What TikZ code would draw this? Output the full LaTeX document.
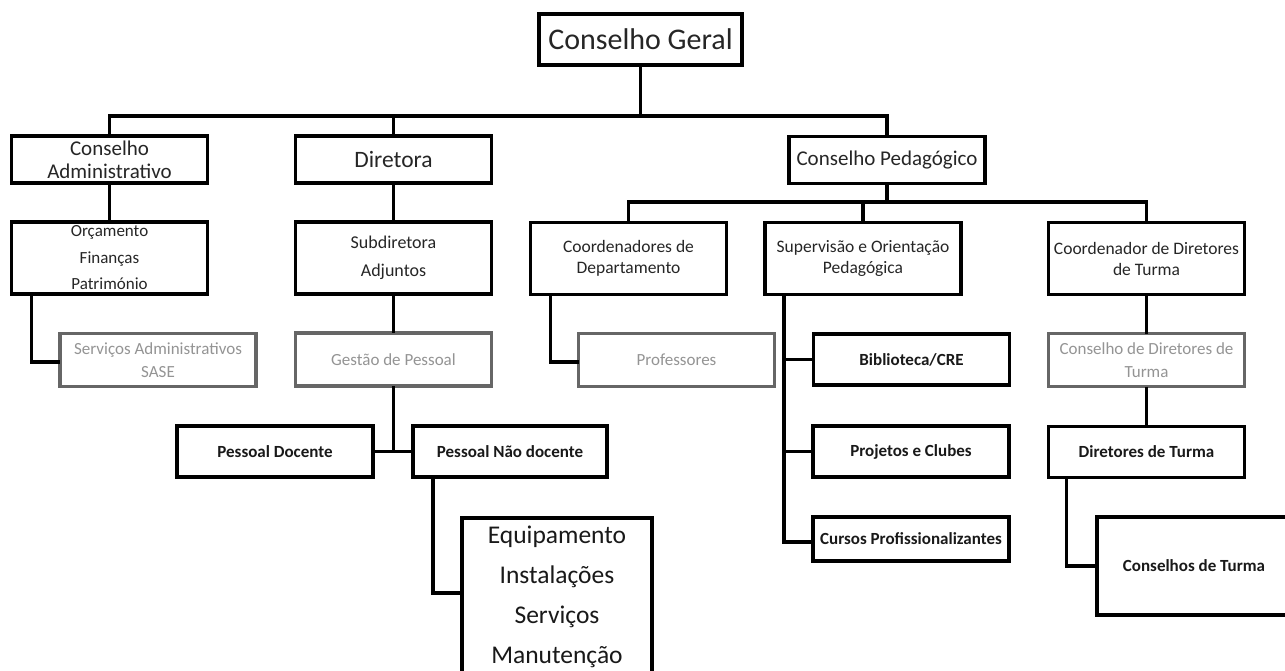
\documentclass[tikz,border=0pt]{standalone}
\usepackage{fontspec}
\setmainfont{Carlito}
\usetikzlibrary{positioning}

\begin{document}
\begin{tikzpicture}[x=1pt, y=-1pt,
    box/.style={draw=black, line width=3.2pt, fill=white, align=center, inner sep=0pt, outer sep=0pt, text=black!85, minimum width=196pt},
    top/.style={box, minimum width=203pt, minimum height=51pt, font=\fontsize{30}{34}\selectfont},
    mid/.style={box, minimum height=47pt, font=\fontsize{21}{23}\selectfont},
    sub/.style={box, minimum height=72pt, font=\fontsize{17.5}{21}\selectfont},
    grey/.style={box, draw=black!60, text=black!42, minimum height=53pt, font=\fontsize{17}{23}\selectfont},
    strong/.style={box, text=black!90, minimum height=51pt, font=\bfseries\fontsize{17}{20}\selectfont},
    link/.style={draw, line width=3.6pt}]
    \clip (0,0) rectangle (1285,670);
    \fill[white] (0,0) rectangle (1285,670);

    \node[top] (CG) at (640.5,39.5) {Conselho Geral};
    \node[mid] (CA) at (109.5,159.5) {Conselho\\Administrativo};
    \node[mid, font=\fontsize{23.5}{25}\selectfont] (Dir) at (393.5,159.5) {Diretora};
    \node[mid] (CP) at (887,160) {Conselho Pedagógico};

    \node[sub, below=39pt of CA, font=\fontsize{17}{26.5}\selectfont] (OFP) {Orçamento\\Finanças\\Património};
    \node[sub, below=39pt of Dir, font=\fontsize{18}{28}\selectfont] (SA) {Subdiretora\\Adjuntos};
    \node[sub] (Coord) at (628.5,258.5) {Coordenadores de\\Departamento};
    \node[sub] (Sup) at (863,258.5) {Supervisão e Orientação\\Pedagógica};
    \node[sub] (CDT) at (1146.5,258.5) {Coordenador de Diretores\\de Turma};

    \node[grey] (SAS) at (158,360) {Serviços Administrativos\\SASE};
    \node[grey, below=39pt of SA] (Ges) {Gestão de Pessoal};
    \node[grey] (Prof) at (676.5,360) {Professores};
    \node[strong] (Bib) at (911.5,359.5) {Biblioteca/CRE};
    \node[grey, below=39pt of CDT] (CDiT) {Conselho de Diretores de\\Turma};

    \node[strong] (PD) at (275,451.5) {Pessoal Docente};
    \node[strong, minimum width=194pt] (PND) at (510,451.5) {Pessoal Não docente};
    \node[strong] (Proj) at (911,451.5) {Projetos e Clubes};
    \node[strong, below=40pt of CDiT] (DT) {Diretores de Turma};
    \node[strong, minimum height=44pt] (Cur) at (911,539) {Cursos Profissionalizantes};
    \node[box, text=black!90, minimum width=190pt, minimum height=158pt, font=\fontsize{25.5}{40}\selectfont] (Equip) at (557,597) {Equipamento\\Instalações\\Serviços\\Manutenção};
    \node[strong, minimum width=194pt, minimum height=98pt] (CT) at (1194,566) {Conselhos de Turma};

    \coordinate (bus1) at (0,116);
    \coordinate (bus2) at (0,202);
    \coordinate (supT) at ([xshift=19pt]Sup.south west);

    \path[link]
        (CG.south) -- (CG.south |- bus1)
        (CA.north) -- (CA.north |- bus1) -| (CP.north)
        (Dir.north) -- (Dir.north |- bus1)
        (CP.south) -- (CP.south |- bus2)
        (Coord.north) -- (Coord.north |- bus2) -| (CDT.north)
        (Sup.north) -- (Sup.north |- bus2)
        (CA.south) -- (CA.south |- OFP.north)
        (Dir.south) -- (SA.north)
        (SA.south) -- (Ges.north)
        (CDT.south) -- (CDiT.north)
        (CDiT.south) -- (DT.north)
        ([xshift=20pt]OFP.south west) |- ([yshift=-2pt]SAS.west)
        ([xshift=20pt]Coord.south west) |- ([yshift=-2pt]Prof.west)
        (supT) |- ([yshift=-3pt]Cur.west)
        (supT |- Bib.west) -- (Bib.west)
        (supT |- Proj.west) -- (Proj.west)
        (Ges.south) -- (Ges.south |- PD.east)
        (PD.east) -- (PND.west)
        ([xshift=20pt]PND.south west) |- ([yshift=4pt]Equip.west)
        ([xshift=18pt]DT.south west) |- (CT.west)
        ;
\end{tikzpicture}
\end{document}
